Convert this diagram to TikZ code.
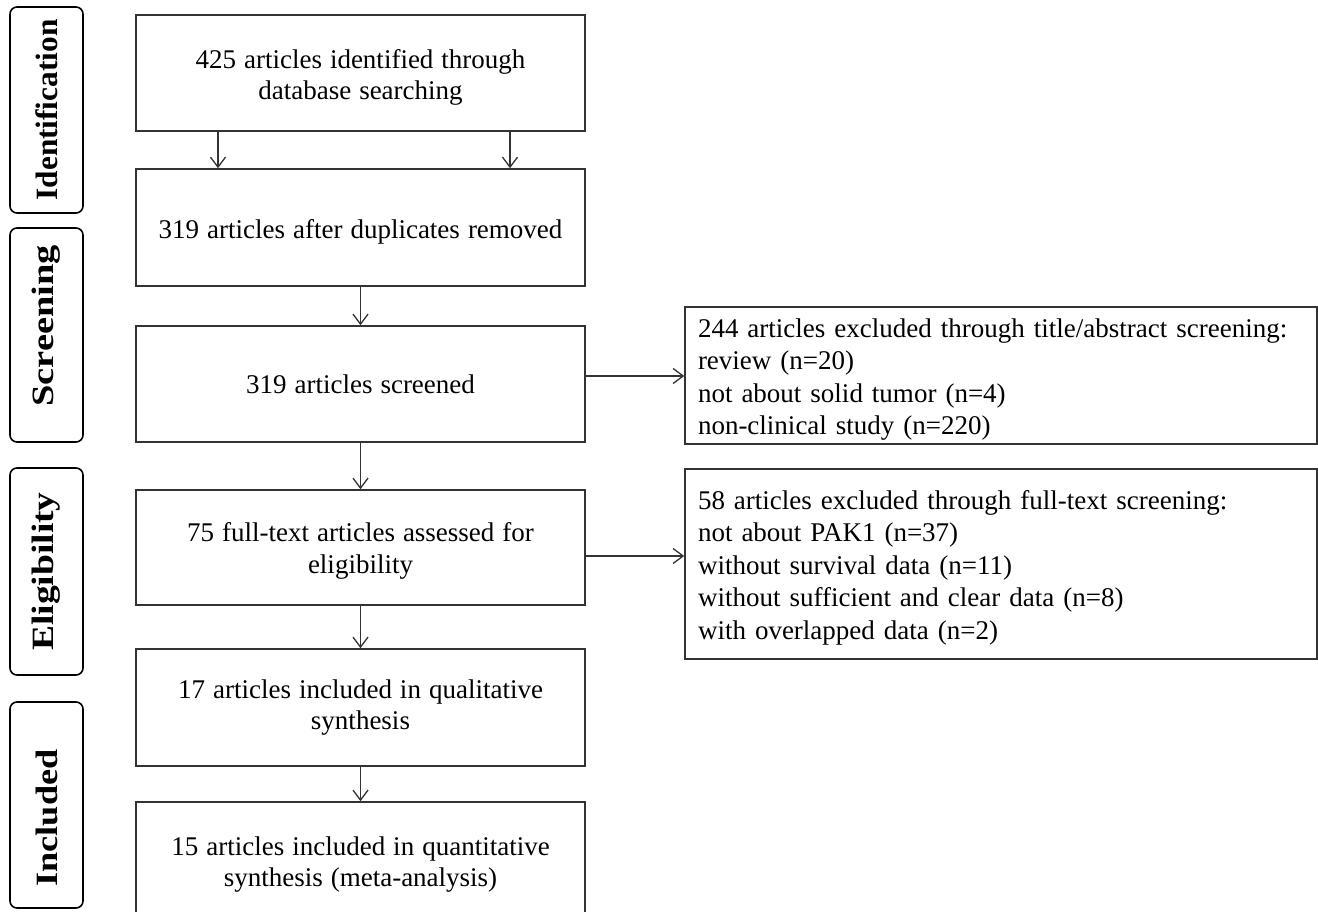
\documentclass[tikz,border=0pt]{standalone}
\usepackage{fontspec}
\setmainfont{Liberation Serif}
\usetikzlibrary{arrows.meta}
\definecolor{linec}{HTML}{333333}
\newcommand{\mywidesp}{\spaceskip=8pt plus 2pt minus 1pt\relax}
\tikzset{
  mainbox/.style={draw=linec, line width=1.6pt, rectangle, minimum width=449pt, inner sep=0pt,
    align=center, font=\fontsize{27}{31.5}\selectfont\mywidesp},
  exbox/.style={draw=linec, line width=1.6pt, rectangle, minimum width=632pt, inner xsep=13pt, inner ysep=0pt,
    text width=606pt, align=left, font=\fontsize{27}{32.5}\selectfont\mywidesp},
  phase/.style={draw=black, line width=1.6pt, rounded corners=7pt, rectangle, rotate=90,
    minimum height=73pt, inner sep=0pt, font=\fontsize{31}{36}\selectfont\bfseries},
  arr/.style={draw=linec, line width=1.3pt, -{Straight Barb[length=10pt,width=15pt,line width=1.3pt]}}
}
\begin{document}
\begin{tikzpicture}[x=1pt,y=-1pt]
\path[use as bounding box] (0,0) rectangle (1318,911);
\clip (0,0) rectangle (1318,911);
\fill[white] (0,0) rectangle (1318,911);

% phase labels
\node[phase, minimum width=206pt] (pid) at (46.5,110) {\scalebox{1.01}[1]{Identification}};
\node[phase, minimum width=214pt] (psc) at (46.5,335) {\hspace*{18pt}\scalebox{1.24}[1]{Screening}};
\node[phase, minimum width=207pt] (pel) at (46.5,571.5) {\scalebox{1.21}[1]{Eligibility}};
\node[phase, minimum width=206pt] (pin) at (46.5,805) {\scalebox{1.17}[1]{Included}\hspace*{26pt}};

% main boxes
\node[mainbox, minimum height=116pt] (b1) at (360.5,73) {\rule{0pt}{28pt}425 articles identified through\\database searching};
\node[mainbox, minimum height=117pt] (b2) at (360.5,227.5) {\rule{0pt}{28pt}319 articles after duplicates removed};
\node[mainbox, minimum height=116pt] (b3) at (360.5,384) {319 articles screened};
\node[mainbox, minimum height=115pt] (b4) at (360.5,547.5) {\rule{0pt}{26pt}75 full-text articles assessed for\\eligibility};
\node[mainbox, minimum height=117pt] (b5) at (360.5,707.5) {17 articles included in qualitative\\synthesis};
\node[mainbox, minimum height=120pt] (b6) at (360.5,862) {\rule{0pt}{24pt}15 articles included in quantitative\\synthesis (meta-analysis)};

% exclusion boxes
\node[exbox, minimum height=137pt] (e1) at (1001,375.5) {\rule{0pt}{27pt}244 articles excluded through title/abstract screening:\\review (n=20)\\not about solid tumor (n=4)\\non-clinical study (n=220)};
\node[exbox, minimum height=190pt] (e2) at (1001,564) {\rule{0pt}{26pt}58 articles excluded through full-text screening:\\not about PAK1 (n=37)\\without survival data (n=11)\\without sufficient and clear data (n=8)\\with overlapped data (n=2)};

% arrows
\draw[arr] ([xshift=-142.5pt]b1.south) -- ([xshift=-142.5pt]b2.north);
\draw[arr] ([xshift=149.5pt]b1.south) -- ([xshift=149.5pt]b2.north);
\draw[arr] (b2.south) -- (b3.north);
\draw[arr] (b3.south) -- (b4.north);
\draw[arr] (b4.south) -- (b5.north);
\draw[arr] (b5.south) -- (b6.north);
\draw[arr] ([yshift=8pt]b3.east) -- ([yshift=8pt]b3.east -| e1.west);
\draw[arr] ([yshift=-8.5pt]b4.east) -- ([yshift=-8.5pt]b4.east -| e2.west);
\end{tikzpicture}
\end{document}
